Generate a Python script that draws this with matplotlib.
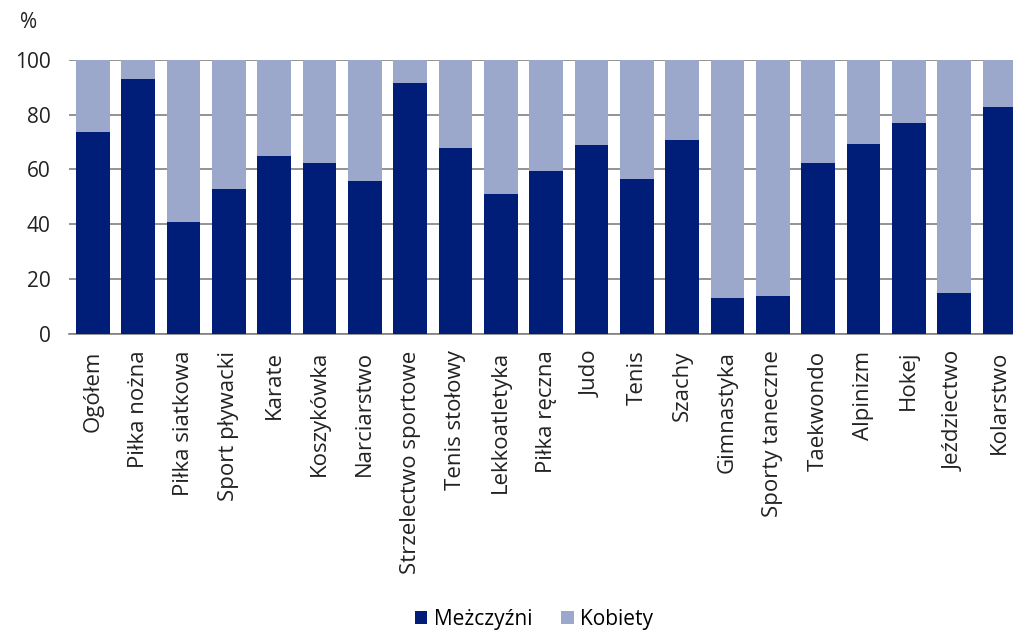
import matplotlib.pyplot as plt

categories = ["Ogółem", "Piłka nożna", "Piłka siatkowa", "Sport pływacki", "Karate",
              "Koszykówka", "Narciarstwo", "Strzelectwo sportowe", "Tenis stołowy",
              "Lekkoatletyka", "Piłka ręczna", "Judo", "Tenis", "Szachy", "Gimnastyka",
              "Sporty taneczne", "Taekwondo", "Alpinizm", "Hokej", "Jeździectwo", "Kolarstwo"]
men = [73.6, 92.9, 40.8, 52.9, 64.8, 62.3, 55.7, 91.5, 68.0, 51.2, 59.5,
       68.9, 56.7, 70.9, 13.2, 13.7, 62.3, 69.4, 77.0, 15.0, 82.9]
women = [100 - m for m in men]
yticks = [0, 20, 40, 60, 80, 100]

plt.rcParams['font.family'] = ['Open Sans', 'DejaVu Sans']
fs = 15

fig = plt.figure(figsize=(10.13, 6.3), dpi=100)
ax = fig.add_axes([0.068, 0.47, 0.932, 0.435])

x = range(len(categories))
ax.bar(x, men, width=0.74, color="#001E78", label="Meżczyźni", zorder=3)
ax.bar(x, women, width=0.74, bottom=men, color="#9BA8CB", label="Kobiety", zorder=3)

ax.set_ylim(0, 100)
ax.set_xlim(-0.53, 20.3)
ax.set_yticks(yticks)
ax.set_yticklabels([str(t) for t in yticks], fontsize=fs, color="#222222")
ax.set_xticks(list(x))
ax.set_xticklabels(categories, rotation=90, fontsize=16, color="#222222")
ax.tick_params(axis="y", length=0, pad=13)
ax.tick_params(axis="x", length=0, pad=12)
ax.yaxis.grid(True, color="#808080", linewidth=1.2, zorder=0)
for s in ["top", "right", "left"]:
    ax.spines[s].set_visible(False)
ax.spines["bottom"].set_color("#808080")
ax.spines["bottom"].set_linewidth(1.2)

fig.text(0.02, 0.965, "%", fontsize=fs, color="#222222", va="center")

fig.legend(loc="lower center", bbox_to_anchor=(0.527, -0.03), ncol=2, frameon=False,
           fontsize=fs, handlelength=0.6, handleheight=0.6, handletextpad=0.3,
           columnspacing=1.4)

fig.savefig("out.png", dpi=100)
